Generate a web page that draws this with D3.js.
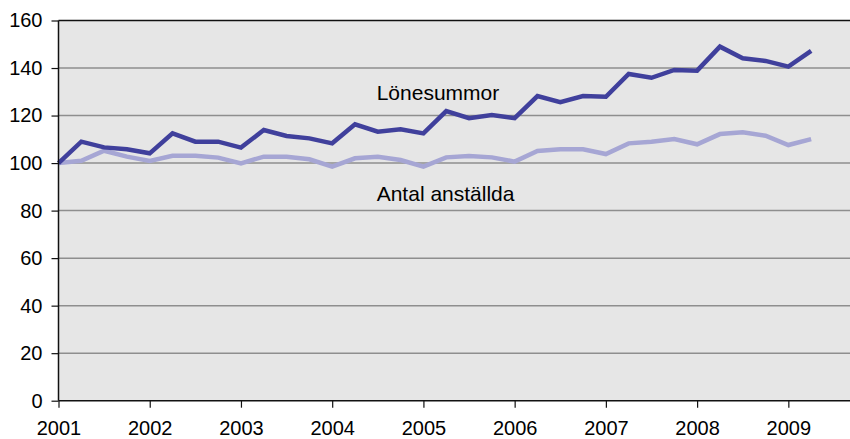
<!DOCTYPE html>
<html>
<head>
<meta charset="utf-8">
<script src="https://cdn.jsdelivr.net/npm/d3@7"></script>
<style>
  body { margin: 0; background: #fff; }
  svg { display: block; font-family: Arial, "Liberation Sans", sans-serif; }
</style>
</head>
<body>
<div id="chart"></div>
<script>
// quarterly index, 2001 Q1 = 100
const quarters = d3.range(34).map(i => 2001 + i / 4);
const lonesummor = [100, 109.0, 106.6, 105.8, 104.1, 112.5, 109.0, 109.0, 106.5, 113.9, 111.4, 110.4,
  108.3, 116.3, 113.2, 114.2, 112.5, 121.9, 118.9, 120.2, 118.9, 128.2, 125.6, 128.2,
  127.9, 137.5, 135.9, 139.2, 138.9, 149.0, 144.1, 143.0, 140.6, 147.2];
const anstallda = [100, 101.0, 105.2, 102.7, 100.9, 103.1, 103.1, 102.3, 99.9, 102.7, 102.7, 101.6,
  98.5, 102.0, 102.7, 101.3, 98.5, 102.4, 103.0, 102.4, 100.6, 105.1, 105.8, 105.8,
  103.8, 108.3, 109.0, 110.1, 107.9, 112.2, 113.0, 111.5, 107.6, 110.1];
const yearTicks = d3.range(2001, 2010);
const yTicks = d3.range(0, 161, 20);

function draw() {
  const width = 850, height = 439;
  const left = 58.5, top = 20.5, bottom = 400.7;
  const yearW = 91.23;

  const svg = d3.select('#chart').append('svg')
    .attr('width', width).attr('height', height);

  const x = d3.scaleLinear().domain([2001, 2009.75]).range([left, left + 8.75 * yearW]);
  const y = d3.scaleLinear().domain([0, 160]).range([bottom, top]);

  svg.append('rect')
    .attr('x', left).attr('y', top)
    .attr('width', width - left).attr('height', bottom - top)
    .attr('fill', '#e6e6e6');

  // gridlines
  svg.append('g')
    .selectAll('line')
    .data(yTicks.filter(d => d > 0 && d < 160))
    .join('line')
    .attr('x1', left).attr('x2', width)
    .attr('y1', d => y(d)).attr('y2', d => y(d))
    .attr('stroke', '#8e8e8e').attr('stroke-width', 1.5);

  // top border
  svg.append('line')
    .attr('x1', left).attr('x2', width)
    .attr('y1', top).attr('y2', top)
    .attr('stroke', '#111').attr('stroke-width', 1.5);

  const line = d3.line().x((d, i) => x(quarters[i])).y(d => y(d));

  svg.append('path')
    .datum(anstallda)
    .attr('d', line)
    .attr('fill', 'none')
    .attr('stroke', '#a6a6d4')
    .attr('stroke-width', 4.5);

  svg.append('path')
    .datum(lonesummor)
    .attr('d', line)
    .attr('fill', 'none')
    .attr('stroke', '#40409c')
    .attr('stroke-width', 4.5);

  // axes
  const yAxis = svg.append('g')
    .attr('transform', `translate(${left},0)`)
    .call(d3.axisLeft(y).tickValues(yTicks).tickSize(7).tickPadding(9));
  const xAxis = svg.append('g')
    .attr('transform', `translate(0,${bottom})`)
    .call(d3.axisBottom(x).tickValues(yearTicks).tickFormat(d3.format('d')).tickSize(7).tickPadding(13));

  [yAxis, xAxis].forEach(g => {
    g.select('.domain').attr('stroke', '#111').attr('stroke-width', 1.5);
    g.selectAll('.tick line').attr('stroke', '#111').attr('stroke-width', 1.2);
    g.selectAll('text').attr('fill', '#000')
      .style('font-size', '20px').style('font-family', 'Arial, "Liberation Sans", sans-serif');
  });
  xAxis.select('.domain').attr('d', `M${left},0H${width}`);
  yAxis.select('.domain').attr('d', `M0,${top}V${bottom}`);

  // series labels
  svg.append('text').attr('x', 376.7).attr('y', 100)
    .style('font-size', '21px').text('Lönesummor');
  svg.append('text').attr('x', 376.7).attr('y', 201)
    .style('font-size', '21px').text('Antal anställda');
}

draw();
</script>
</body>
</html>
